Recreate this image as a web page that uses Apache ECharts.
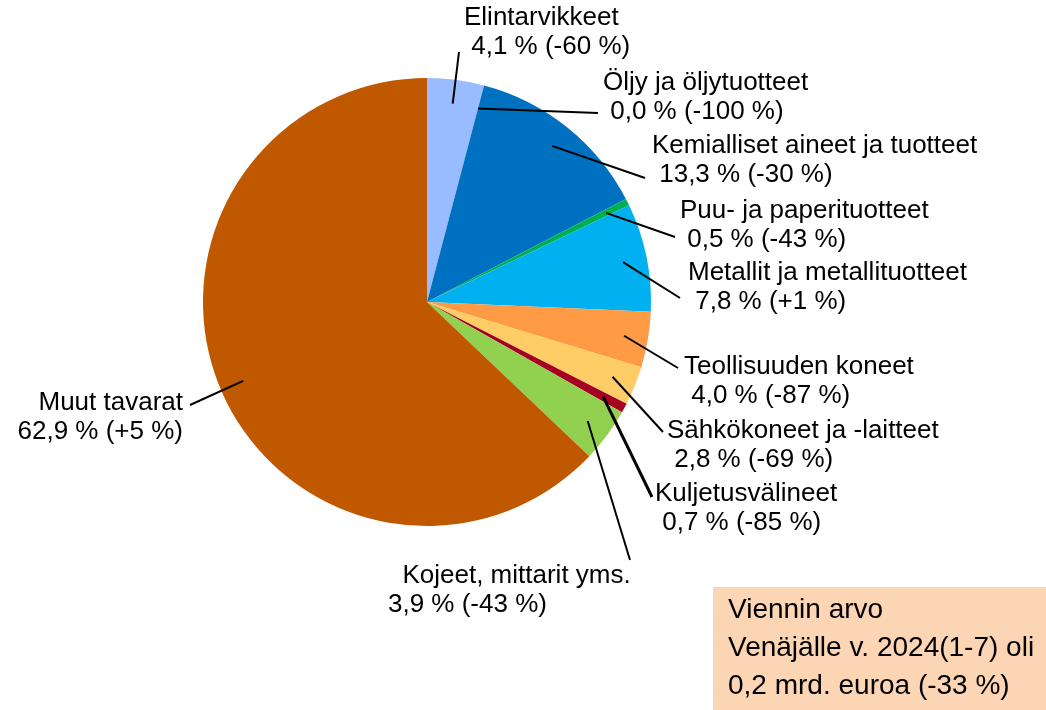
<!DOCTYPE html>
<html>
<head>
<meta charset="utf-8">
<script src="https://cdn.jsdelivr.net/npm/echarts@6/dist/echarts.min.js"></script>
<style>
  html, body { margin: 0; padding: 0; background: #fff; }
  #chart { width: 1046px; height: 710px; }
</style>
</head>
<body>
<div id="chart"></div>
<script>
// tuoteryhmät, osuus viennistä (%) ja muutos (%)
var categories = ['Elintarvikkeet', 'Öljy ja öljytuotteet', 'Kemialliset aineet ja tuotteet',
  'Puu- ja paperituotteet', 'Metallit ja metallituotteet', 'Teollisuuden koneet',
  'Sähkökoneet ja -laitteet', 'Kuljetusvälineet', 'Kojeet, mittarit yms.', 'Muut tavarat']
var shares = [4.1, 0.0, 13.3, 0.5, 7.8, 4.0, 2.8, 0.7, 3.9, 62.9]
var changes = [-60, -100, -30, -43, 1, -87, -69, -85, -43, 5]
var colors = ['#99BBFF', '#8064A2', '#0070C0', '#00B050', '#00B0F0',
  '#FF9A45', '#FFCC66', '#A50021', '#92D050', '#C05800']
var noteLines = ['Viennin arvo', 'Venäjälle v. 2024(1-7) oli', '0,2 mrd. euroa (-33 %)']

var FONT = '"Liberation Sans", Arial, sans-serif'
var cx = 427, cy = 302, R = 224

// label placement: [x, y, align], leader line end point
var labelPos = [
  [464, 3, 'left'], [603, 68, 'left'], [652, 131, 'left'], [680, 196, 'left'],
  [688, 258, 'left'], [684, 352, 'left'], [667, 416, 'left'], [655, 479, 'left'],
  [388, 561, 'left'], [183, 388, 'right']
]
var lineEnds = [
  [459, 52], [598, 113], [645, 178], [675, 237], [680, 298],
  [678, 368], [663, 432], [652, 497], [630, 560], [190, 405]
]

function fmt(v) {
  return v.toFixed(1).replace('.', ',')
}
function fmtChange(v) {
  return (v > 0 ? '+' : '') + v
}

var total = shares.reduce(function (a, b) { return a + b }, 0)
var midAngles = []
var cum = 0
shares.forEach(function (v) {
  midAngles.push((cum + v / 2) / total * Math.PI * 2)
  cum += v
})

var chart = echarts.init(document.getElementById('chart'))

var pieData = categories.map(function (name, i) {
  return { name: name, value: shares[i] }
})

var option = {
  animation: false,
  color: colors,
  series: [{
    // varsinainen piirakka
    type: 'pie',
    center: [cx, cy],
    radius: R,
    startAngle: 90,
    clockwise: true,
    silent: true,
    data: pieData,
    label: { show: false },
    labelLine: { show: false }
  }, {
    // näkymätön sisäpiirakka, jonka reunalta selitteiden viivat lähtevät
    type: 'pie',
    z: 5,
    center: [cx, cy],
    radius: 200,
    startAngle: 90,
    clockwise: true,
    silent: true,
    avoidLabelOverlap: false,
    data: pieData.map(function (d, i) {
      if (i !== 7) return d
      return { name: d.name, value: d.value, labelLine: { lineStyle: { width: 3 } } }
    }),
    itemStyle: { color: 'rgba(0,0,0,0)' },
    label: {
      show: true,
      color: '#000',
      fontFamily: FONT,
      fontSize: 26,
      lineHeight: 29,
      formatter: function (p) {
        var i = p.dataIndex
        var second = fmt(shares[i]) + ' % (' + fmtChange(changes[i]) + ' %)'
        if (i === 8) return '  ' + p.name + '\n' + second
        if (i === 9) return p.name + '\n' + second
        return p.name + '\n ' + second
      }
    },
    labelLine: {
      show: true,
      showAbove: true,
      lineStyle: { color: '#000', width: 2 }
    },
    labelLayout: function (p) {
      var i = p.dataIndex
      var a = midAngles[i]
      var start = [cx + 200 * Math.sin(a), cy - 200 * Math.cos(a)]
      return {
        x: labelPos[i][0],
        y: labelPos[i][1],
        align: labelPos[i][2],
        verticalAlign: 'top',
        labelLinePoints: [start, lineEnds[i], lineEnds[i]]
      }
    }
  }],
  graphic: [{
    type: 'rect',
    shape: { x: 713, y: 587, width: 340, height: 130 },
    style: { fill: '#FCD5B4' }
  }, {
    type: 'text',
    x: 728,
    y: 591,
    style: {
      text: noteLines.join('\n'),
      font: '28px ' + FONT,
      lineHeight: 38,
      fill: '#000'
    }
  }]
}

chart.setOption(option)
</script>
</body>
</html>
